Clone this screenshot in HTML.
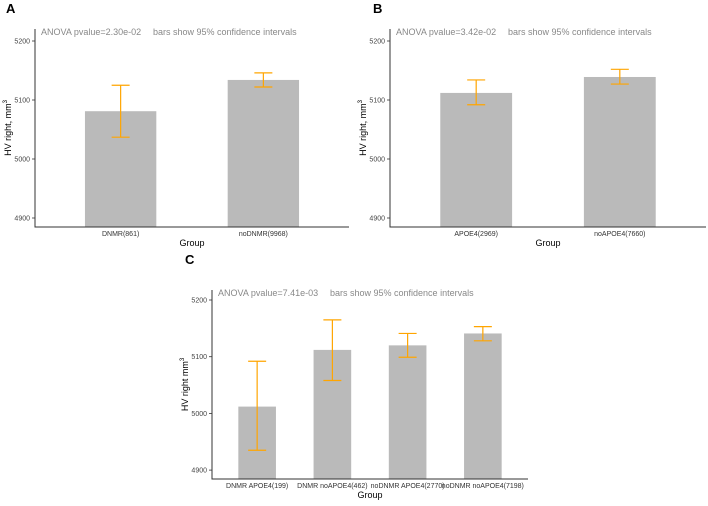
<!DOCTYPE html>
<html><head><meta charset="utf-8"><style>
body{margin:0;background:#fff;}
svg text{font-family:"Liberation Sans",sans-serif;}
</style></head><body>
<svg id="s" width="708" height="501" xmlns="http://www.w3.org/2000/svg"></svg>
<script>
const catsA=["DNMR(861)","noDNMR(9968)"];
const meanA=[5081,5134];
const lowA=[5037,5122];
const highA=[5125,5146];
const catsB=["APOE4(2969)","noAPOE4(7660)"];
const meanB=[5112,5139];
const lowB=[5092,5127];
const highB=[5134,5152];
const catsC=["DNMR APOE4(199)","DNMR noAPOE4(462)","noDNMR APOE4(2770)","noDNMR noAPOE4(7198)"];
const meanC=[5012,5112,5120,5141];
const lowC=[4935,5058,5099,5128];
const highC=[5092,5165,5141,5153];
const ticks=[4900,5000,5100,5200];
const NS="http://www.w3.org/2000/svg";
const svg=document.getElementById('s');
function mk(t,a,txt){const e=document.createElementNS(NS,t);for(const k in a)e.setAttribute(k,a[k]);if(txt!==undefined)e.textContent=txt;svg.appendChild(e);return e;}
function panel(p){
  const y=v=>p.y5200+(5200-v)*p.ppu;
  const n=p.cats.length;
  const band=(p.x1-p.x0)/(n+0.2);
  const xc=i=>p.x0+band*(i+0.6);
  const bw=band*0.5;
  let e=mk('text',{x:p.lx,y:p.ly,'font-size':13,'font-weight':'bold',fill:'#000'},p.label);
  
  
  p.cats.forEach((c,i)=>{
    const top=y(p.mean[i]);
    let r=mk('rect',{x:xc(i)-bw/2,y:top,width:bw,height:p.yb-top,fill:'#bababa'});
    
    
    const g=document.createElementNS(NS,'g');
    
    
    svg.appendChild(g);
    const yl=y(p.low[i]),yh=y(p.high[i]),cx=xc(i),cw=9;
    [[cx,yh,cx,yl],[cx-cw,yh,cx+cw,yh],[cx-cw,yl,cx+cw,yl]].forEach(L=>{
      const l=document.createElementNS(NS,'line');
      l.setAttribute('x1',L[0]);l.setAttribute('y1',L[1]);l.setAttribute('x2',L[2]);l.setAttribute('y2',L[3]);
      l.setAttribute('stroke','#ffa500');l.setAttribute('stroke-width',1.2);g.appendChild(l);});
    let t=mk('text',{x:cx,y:p.yb+9,'font-size':7,'text-anchor':'middle',fill:'#333'},c);
    
    
  });
  ticks.forEach(v=>{
    mk('line',{x1:p.x0-3,x2:p.x0,y1:y(v),y2:y(v),stroke:'#333','stroke-width':0.8});
    let t=mk('text',{x:p.x0-5,y:y(v)+2.5,'font-size':7,'text-anchor':'end',fill:'#444'},v);
    
    
  });
  let ax=mk('path',{d:`M${p.x0} ${p.ytop} V${p.yb} H${p.x1}`,fill:'none',stroke:'#333','stroke-width':1});
  
  
  let a1=mk('text',{x:p.x0+6,y:p.ytop+6,'font-size':9,fill:'#888'},p.anova);
  
  
  let a2=mk('text',{x:p.x0+118,y:p.ytop+6,'font-size':9,fill:'#888'},'bars show 95% confidence intervals');
  
  
  let xt=mk('text',{x:(p.x0+p.x1)/2,y:p.yb+19,'font-size':9,'text-anchor':'middle',fill:'#000'},'Group');
  
  
  const my=(p.ytop+p.yb)/2;
  let yt=mk('text',{x:0,y:0,'font-size':9,'text-anchor':'middle',fill:'#000',transform:`translate(${p.x0-24},${my}) rotate(-90)`});
  
  
  yt.textContent=p.ytitle;
  const sup=document.createElementNS(NS,'tspan');sup.setAttribute('dy','-4');sup.setAttribute('font-size','6');sup.textContent='3';yt.appendChild(sup);
}
panel({label:'A',lx:6,ly:13,x0:35,x1:349,ytop:29,yb:227,y5200:41,ppu:0.59,cats:catsA,mean:meanA,low:lowA,high:highA,anova:'ANOVA pvalue=2.30e-02',ytitle:'HV right,  mm'});
panel({label:'B',lx:373,ly:13,x0:390,x1:706,ytop:29,yb:227,y5200:41,ppu:0.59,cats:catsB,mean:meanB,low:lowB,high:highB,anova:'ANOVA pvalue=3.42e-02',ytitle:'HV right,  mm'});
panel({label:'C',lx:185,ly:264,x0:212,x1:528,ytop:290,yb:479,y5200:300,ppu:0.567,cats:catsC,mean:meanC,low:lowC,high:highC,anova:'ANOVA pvalue=7.41e-03',ytitle:'HV right mm'});
</script>
</body></html>
